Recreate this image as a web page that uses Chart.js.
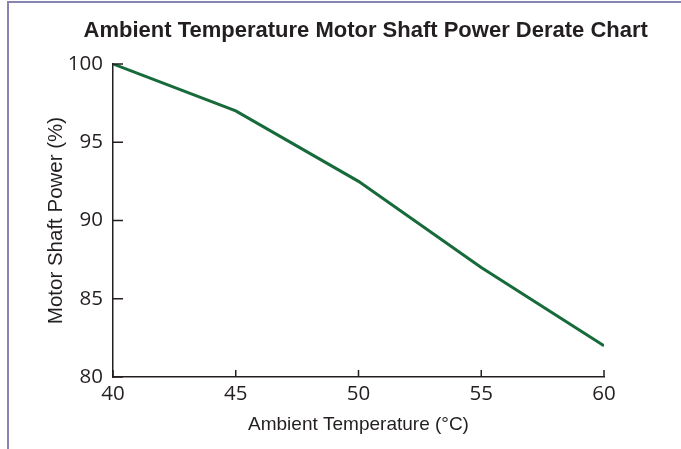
<!DOCTYPE html>
<html lang="en">
<head>
  <meta charset="UTF-8">
  <title>Ambient Temperature Motor Shaft Power Derate Chart</title>
  <script src="https://cdn.jsdelivr.net/npm/chart.js"></script>
  <style>
    * {
      box-sizing: border-box;
    }

    body {
      margin: 0;
      background: white;
    }

    .frame {
      position: relative;
      width: 681px;
      height: 449px;
    }

    /* thin border on the left and top edge */
    .frame::before {
      content: "";
      position: absolute;
      left: 7px;
      top: 1px;
      right: 0;
      bottom: 0;
      border-left: 2px solid #8884b2;
      border-top: 2px solid #8884b2;
      pointer-events: none;
    }

    canvas {
      position: absolute;
      left: 0;
      top: 0;
    }
  </style>
</head>
<body>
  <div class="frame">
    <canvas id="derateChart" width="681" height="449"></canvas>
  </div>

  <script>
    const temperatures = [40, 45, 50, 55, 60];
    const shaftPower = [100, 97, 92.5, 87, 82];
    const xTicks = [40, 45, 50, 55, 60];
    const yTicks = [80, 85, 90, 95, 100];
    const chartTitle = 'Ambient Temperature Motor Shaft Power Derate Chart';

    const axisColor = '#231f20';
    const tickFont = { family: "'Open Sans', sans-serif", size: 20.5 };
    const arial = "'Liberation Sans', Arial, sans-serif";

    // ticks in the reference point into the plot area
    const inwardTicks = {
      id: 'inwardTicks',
      afterDraw(chart) {
        const ctx = chart.ctx;
        const x = chart.scales.x;
        const y = chart.scales.y;
        ctx.save();
        ctx.strokeStyle = axisColor;
        ctx.lineWidth = 1.5;
        ctx.beginPath();
        xTicks.forEach(v => {
          const px = x.getPixelForValue(v);
          ctx.moveTo(px, x.top);
          ctx.lineTo(px, x.top - 7);
        });
        yTicks.forEach(v => {
          const py = y.getPixelForValue(v);
          ctx.moveTo(y.right, py);
          ctx.lineTo(y.right + 10, py);
        });
        ctx.stroke();
        ctx.restore();
      }
    };

    // the title sits a bit right of the page centre, so draw it by hand
    const offsetTitle = {
      id: 'offsetTitle',
      afterDraw(chart) {
        const ctx = chart.ctx;
        ctx.save();
        ctx.fillStyle = axisColor;
        ctx.font = 'bold 22px ' + arial;
        ctx.textAlign = 'center';
        ctx.textBaseline = 'middle';
        ctx.fillText(chartTitle, chart.width * 0.537, 31);
        ctx.restore();
      }
    };

    new Chart(document.getElementById('derateChart'), {
      type: 'line',
      data: {
        datasets: [{
          label: 'Motor Shaft Power',
          data: temperatures.map((t, i) => ({ x: t, y: shaftPower[i] })),
          borderColor: '#176a3a',
          borderWidth: 3,
          pointRadius: 0,
          tension: 0
        }]
      },
      options: {
        responsive: false,
        animation: false,
        layout: {
          padding: { left: 0, right: 77, top: 64, bottom: 0 }
        },
        plugins: {
          legend: { display: false },
          tooltip: { enabled: false },
          title: { display: false }
        },
        scales: {
          x: {
            type: 'linear',
            min: xTicks[0],
            max: xTicks[xTicks.length - 1],
            afterBuildTicks: s => { s.ticks = xTicks.map(v => ({ value: v })); },
            afterFit: s => { s.height = 72; },
            grid: { display: false, drawTicks: false },
            border: { display: true, color: axisColor, width: 1.5 },
            ticks: { color: axisColor, font: tickFont, padding: 5, maxRotation: 0 },
            title: {
              display: true,
              text: 'Ambient Temperature (°C)',
              color: axisColor,
              font: { family: arial, size: 19 },
              padding: { top: 0, bottom: 13 }
            }
          },
          y: {
            min: yTicks[0],
            max: yTicks[yTicks.length - 1],
            afterBuildTicks: s => { s.ticks = yTicks.map(v => ({ value: v })); },
            afterFit: s => { s.width = 113; },
            grid: { display: false, drawTicks: false },
            border: { display: true, color: axisColor, width: 1.5 },
            ticks: { color: axisColor, font: tickFont, padding: 10 },
            title: {
              display: true,
              text: 'Motor Shaft Power (%)',
              color: axisColor,
              font: { family: arial, size: 20.5 },
              padding: { top: 44, bottom: 0 }
            }
          }
        }
      },
      plugins: [inwardTicks, offsetTitle]
    });
  </script>
</body>
</html>
